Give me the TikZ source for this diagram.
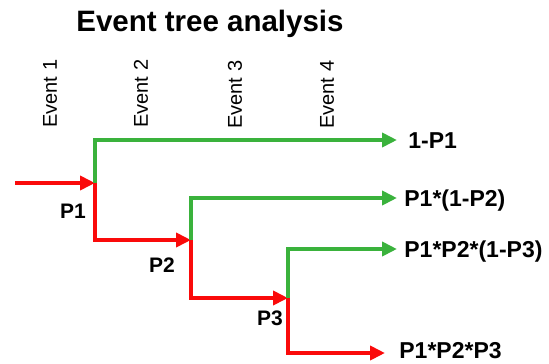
\documentclass[tikz,border=0pt]{standalone}
\usepackage{fontspec}
\setmainfont{Liberation Sans}
\usetikzlibrary{arrows.meta}
\definecolor{branchgreen}{RGB}{58,178,60}
\definecolor{branchred}{RGB}{250,10,10}

\begin{document}
\begin{tikzpicture}
[ x=1pt, y=-1pt, line width=4.8pt
, point/.style={coordinate}
, title/.style={anchor=base, inner sep=0pt, font=\bfseries\fontsize{29.5}{32}\selectfont}
, event/.style={rotate=90, anchor=west, inner sep=0pt, font=\fontsize{20}{22}\selectfont}
, prob/.style={inner sep=0pt, font=\bfseries\fontsize{21}{24}\selectfont}
, outcome/.style={anchor=base west, inner sep=0pt, font=\bfseries\fontsize{23}{26}\selectfont}
, good/.style={draw=branchgreen, -{Triangle[length=15pt, width=14pt]}}
, bad/.style={draw=branchred, -{Triangle[length=15pt, width=14pt]}}
]
\useasboundingbox (0,0) rectangle (549,364);
% Heading and event columns:
\node (head) [title] at (210,31) {Event tree analysis};
\node (ev1) [event] at (50,130) {Event 1};
\node (ev2) [event] at (141,130) {Event 2};
\node (ev3) [event] at (235,131) {Event 3};
\node (ev4) [event] at (327,131) {Event 4};
% Branch points and ends:
\node (in) [point] at (15,183) {};
\node (b1) [point] at (95,183) {};
\node (b2) [point] at (191,240) {};
\node (b3) [point] at (288,298) {};
\node (e1) [point] at (397,140) {};
\node (e2) [point] at (397,198) {};
\node (e3) [point] at (397,249) {};
\node (e4) [point] at (385,353) {};
% Probabilities:
\node (p1) [prob] at (73,211) {P1};
\node (p2) [prob] at (162,265) {P2};
\node (p3) [prob] at (270,318) {P3};
% Outcomes:
\node (o1) [outcome] at (406,148) {1-P1};
\node (o2) [outcome] at (402,206) {P1*(1-P2)};
\node (o3) [outcome] at (402,257) {P1*P2*(1-P3)};
\node (o4) [outcome] at (397,358) {P1*P2*P3};
\draw [bad] (in) -- (b1);
\draw [good] (b1) |- (e1);
\draw [bad] (b1) |- (b2);
\draw [good] (b2) |- (e2);
\draw [bad] (b2) |- (b3);
\draw [good] (b3) |- (e3);
\draw [bad] (b3) |- (e4);
\end{tikzpicture}
\end{document}
